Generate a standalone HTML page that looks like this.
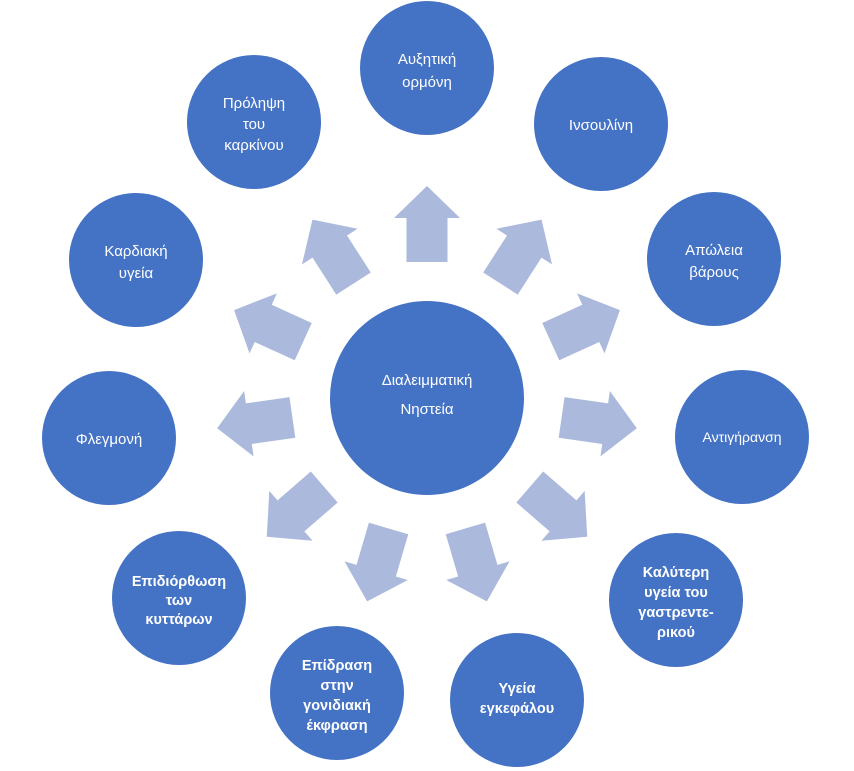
<!DOCTYPE html>
<html><head><meta charset="utf-8"><style>
html,body{margin:0;padding:0;background:#fff;}
svg{display:block;}
text{font-family:"Liberation Sans","DejaVu Sans",sans-serif;fill:#fff;font-size:15px;text-anchor:middle;}
.b{font-weight:bold;font-size:14.5px;}
</style></head><body>
<svg width="854" height="771" viewBox="0 0 854 771" xmlns="http://www.w3.org/2000/svg">
<defs>
<polygon id="ar" points="136,-20.5 180,-20.5 180,-33 212,0 180,33 180,20.5 136,20.5" fill="#abb9dc"/>
</defs>
<g transform="translate(427,398)">
<use href="#ar" transform="rotate(-90)"/>
<use href="#ar" transform="rotate(-57.3)"/>
<use href="#ar" transform="rotate(-24.5)"/>
<use href="#ar" transform="rotate(8.2)"/>
<use href="#ar" transform="rotate(40.9)"/>
<use href="#ar" transform="rotate(73.6)"/>
<use href="#ar" transform="rotate(106.4)"/>
<use href="#ar" transform="rotate(139.1)"/>
<use href="#ar" transform="rotate(171.8)"/>
<use href="#ar" transform="rotate(-155.5)"/>
<use href="#ar" transform="rotate(-122.7)"/>
</g>
<g fill="#4472c4">
<circle cx="427" cy="398" r="97"/>
<circle cx="427" cy="68" r="67"/>
<circle cx="601" cy="124" r="67"/>
<circle cx="714" cy="259" r="67"/>
<circle cx="742" cy="437" r="67"/>
<circle cx="676" cy="600" r="67"/>
<circle cx="517" cy="700" r="67"/>
<circle cx="337" cy="693" r="67"/>
<circle cx="179" cy="598" r="67"/>
<circle cx="109" cy="438" r="67"/>
<circle cx="136" cy="260" r="67"/>
<circle cx="254" cy="122" r="67"/>
</g>
<text x="427" y="385">Διαλειμματική</text>
<text x="427" y="414">Νηστεία</text>
<text x="427" y="64">Αυξητική</text>
<text x="427" y="87">ορμόνη</text>
<text x="601" y="130">Ινσουλίνη</text>
<text x="714" y="255">Απώλεια</text>
<text x="714" y="277">βάρους</text>
<text x="742" y="442" style="font-size:14px">Αντιγήρανση</text>
<text class="b" x="676" y="577">Καλύτερη</text>
<text class="b" x="676" y="597">υγεία του</text>
<text class="b" x="676" y="617">γαστρεντε-</text>
<text class="b" x="676" y="637">ρικού</text>
<text class="b" x="517" y="693">Υγεία</text>
<text class="b" x="517" y="713">εγκεφάλου</text>
<text class="b" x="337" y="670">Επίδραση</text>
<text class="b" x="337" y="690">στην</text>
<text class="b" x="337" y="710">γονιδιακή</text>
<text class="b" x="337" y="730">έκφραση</text>
<text class="b" x="179" y="586">Επιδιόρθωση</text>
<text class="b" x="179" y="605">των</text>
<text class="b" x="179" y="624">κυττάρων</text>
<text x="109" y="444">Φλεγμονή</text>
<text x="136" y="256">Καρδιακή</text>
<text x="136" y="278">υγεία</text>
<text x="254" y="108">Πρόληψη</text>
<text x="254" y="129">του</text>
<text x="254" y="150">καρκίνου</text>
</svg>
</body></html>
